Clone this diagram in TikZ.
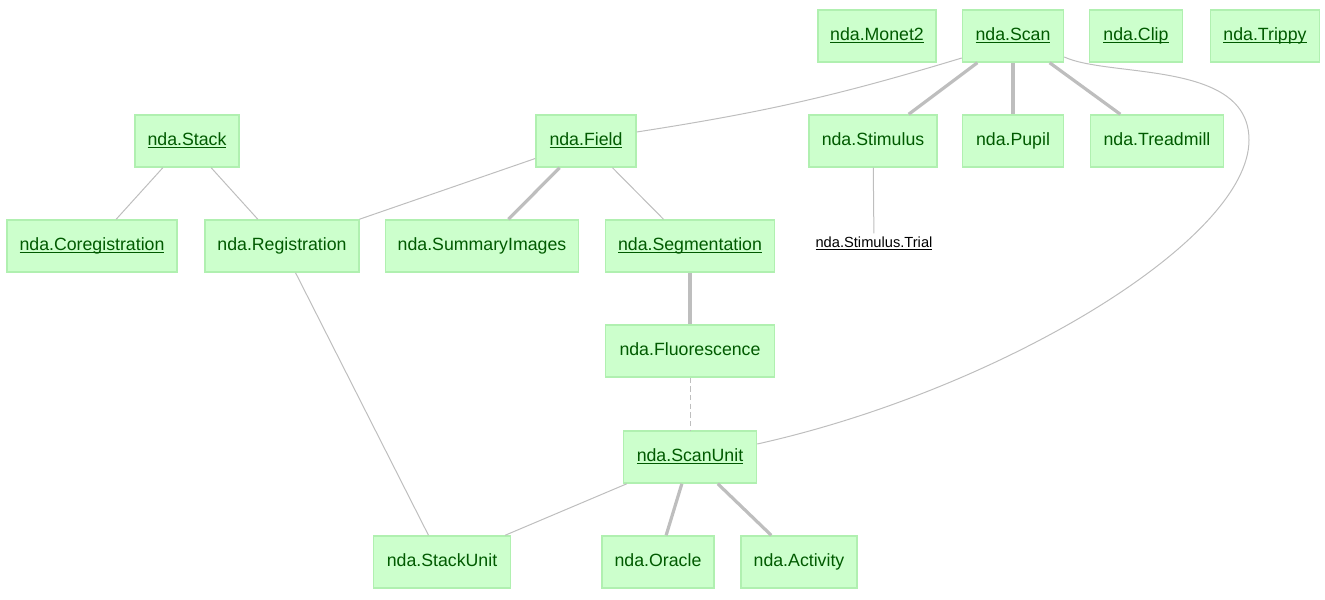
\documentclass[tikz,border=0pt]{standalone}
\usepackage{fontspec}
\setmainfont{Liberation Sans}
\usetikzlibrary{calc}
\definecolor{boxfill}{HTML}{CCFFCC}
\definecolor{boxline}{HTML}{B0F0B0}
\definecolor{boxtext}{HTML}{005A00}
\definecolor{edgegray}{HTML}{BEBEBE}
\newcommand\uln[1]{\underline{\smash{#1}}}
\tikzset{
  tbl/.style={draw=boxline, line width=1.1pt, fill=boxfill, text=boxtext,
    minimum height=39pt, inner xsep=2pt, inner ysep=0pt,
    text height=9.6pt, text depth=3pt,
    font=\fontsize{13.3}{16}\selectfont},
  bw/.style={minimum width=#1*0.75pt},
  plain/.style={text=black, inner sep=2pt, text height=8pt, text depth=2pt,
    font=\fontsize{11}{13}\selectfont},
  lnk/.style={draw=edgegray, line width=0.75pt},
  lnkb/.style={draw=edgegray, line width=2.4pt},
  lnkd/.style={draw=edgegray, line width=0.75pt, dash pattern=on 4pt off 2.5pt},
}
\begin{document}
\begin{tikzpicture}[x=0.75pt, y=-0.75pt]
\useasboundingbox (0,0) rectangle (1325,600);
% row 1
\node[tbl, bw=118] (monet) at (877,36) {\uln{nda.Monet2}};
\node[tbl, bw=101] (scan) at (1013,36) {\uln{nda.Scan}};
\node[tbl, bw=93] (clip) at (1136,36) {\uln{nda.Clip}};
\node[tbl, bw=109] (trippy) at (1265,36) {\uln{nda.Trippy}};
% row 2
\node[tbl, bw=104] (stack) at (187,141) {\uln{nda.Stack}};
\node[tbl, bw=100] (field) at (586,141) {\uln{nda.Field}};
\node[tbl, bw=128] (stimulus) at (873,141) {nda.Stimulus};
\node[tbl, bw=101] (pupil) at (1013,141) {nda.Pupil};
\node[tbl, bw=133] (treadmill) at (1157,141) {nda.Treadmill};
% row 3
\node[tbl, bw=170] (coreg) at (92,246) {\uln{nda.Coregistration}};
\node[tbl, bw=154] (registration) at (282,246) {nda.Registration};
\node[tbl, bw=193] (summary) at (482,246) {nda.SummaryImages};
\node[tbl, bw=169] (segmentation) at (690,246) {\uln{nda.Segmentation}};
\node[plain] (trial) at (874,243) {\uln{nda.Stimulus.Trial}};
% row 4
\node[tbl, bw=169] (fluor) at (690,351) {nda.Fluorescence};
% row 5
\node[tbl, bw=133] (scanunit) at (690,457) {\uln{nda.ScanUnit}};
% row 6
\node[tbl, bw=137] (stackunit) at (442,562) {nda.StackUnit};
\node[tbl, bw=112] (oracle) at (658,562) {nda.Oracle};
\node[tbl, bw=116] (activity) at (799,562) {nda.Activity};
% edges
\draw[lnk] ($(scan.west)+(0,22)$) to[bend left=4] ($(field.east)+(0,-9)$);
\draw[lnkb] (scan) -- (stimulus);
\draw[lnkb] (scan) -- (pupil);
\draw[lnkb] (scan) -- (treadmill);
\draw[lnk] ($(scan.east)+(0,21)$) .. controls (1110,78) and (1249,60) .. (1249,140)
  .. controls (1249,240) and (1000,390) .. ($(scanunit.east)+(0,-13)$);
\draw[lnk] (stack) -- (coreg);
\draw[lnk] (stack) -- (registration);
\draw[lnk] (field) -- (registration);
\draw[lnkb] (field) -- (summary);
\draw[lnk] (field) -- (segmentation);
\draw[lnk] (stimulus) -- (trial);
\draw[lnkb] (segmentation) -- (fluor);
\draw[lnkd] (fluor) -- (scanunit);
\draw[lnk] (registration) -- (stackunit);
\draw[lnk] (scanunit) -- (stackunit);
\draw[lnkb] (scanunit) -- (oracle);
\draw[lnkb] (scanunit) -- (activity);
\end{tikzpicture}
\end{document}
